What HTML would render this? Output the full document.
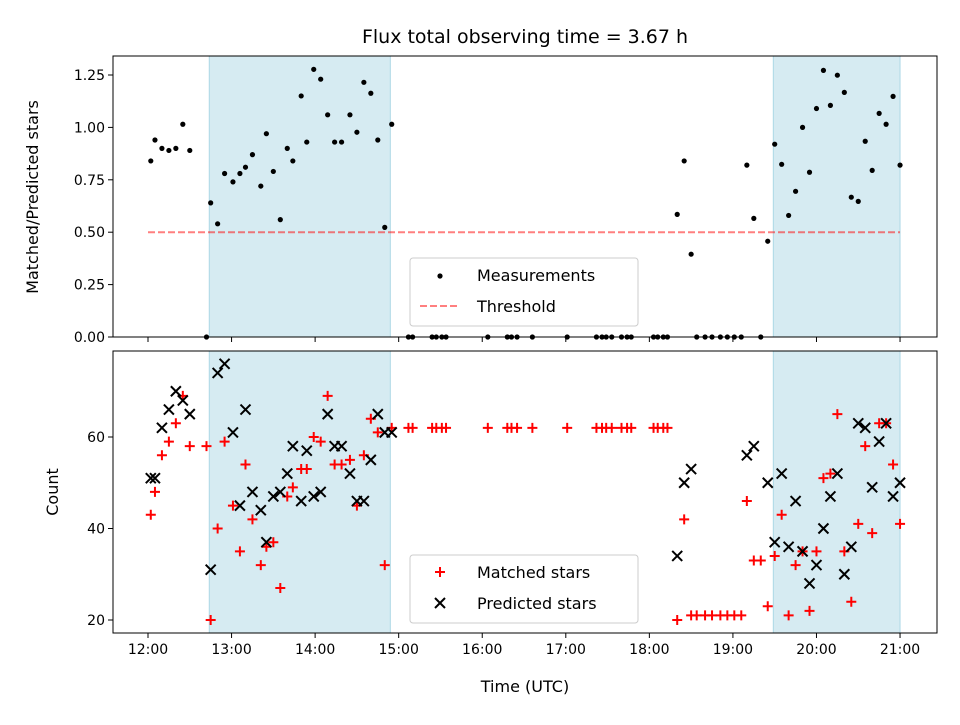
<!DOCTYPE html>
<html><head><meta charset="utf-8"><style>
body{margin:0;background:#fff}
svg text{font-family:"DejaVu Sans","Liberation Sans",sans-serif;fill:#000}
</style></head><body>
<svg id="chart" width="960" height="720" viewBox="0 0 960 720" xmlns="http://www.w3.org/2000/svg">
<rect width="960" height="720" fill="#fff"/>
<text x="525" y="43" font-size="19" text-anchor="middle">Flux total observing time = 3.67 h</text>
<g id="topPanel"></g>
<g id="botPanel"></g>
<text x="525" y="692" font-size="16" text-anchor="middle">Time (UTC)</text>
<text transform="translate(38,197) rotate(-90)" font-size="16" text-anchor="middle">Matched/Predicted stars</text>
<text transform="translate(58,492) rotate(-90)" font-size="16" text-anchor="middle">Count</text>
</svg>
<script>
// minutes after 12:00
const times=[2,5,10,15,20,25,30,42,45,50,55,61,66,70,75,81,85,90,95,100,104,110,114,119,124,129,134,139,145,150,155,160,165,170,175,
187,190,204,207,211,214,244,258,261,265,276,301,322,326,329,333,340,344,347,363,366,370,373,
380,385,390,394,400,405,411,416,421,426,430,435,440,445,450,455,460,465,470,475,480,485,490,495,500,505,510,515,520,525,530,535,540];
const ratio=[.84,.94,.90,.89,.90,1.015,.89,0,.64,.54,.78,.74,.78,.81,.87,.72,.97,.79,.56,.90,.84,1.15,.93,1.277,1.23,1.06,.93,.93,1.06,.977,1.215,1.163,.94,.523,1.015,
0,0,0,0,0,0,0,0,0,0,0,0,0,0,0,0,0,0,0,0,0,0,0,
.585,.84,.395,0,0,0,0,0,0,0,.82,.566,0,.457,.92,.824,.58,.695,1.0,.786,1.09,1.272,1.105,1.249,1.167,.667,.647,.934,.795,1.067,1.015,1.148,.82];
const matched=[43,48,56,59,63,69,58,58,20,40,59,45,35,54,42,32,36,37,27,47,49,53,53,60,59,69,54,54,55,45,56,64,61,32,62,
62,62,62,62,62,62,62,62,62,62,62,62,62,62,62,62,62,62,62,62,62,62,62,
20,42,21,21,21,21,21,21,21,21,46,33,33,23,34,43,21,32,35,22,35,51,52,65,35,24,41,58,39,63,63,54,41];
const predicted=[51,51,62,66,70,68,65,null,31,74,76,61,45,66,48,44,37,47,48,52,58,46,57,47,48,65,58,58,52,46,46,55,65,61,61,
null,null,null,null,null,null,null,null,null,null,null,null,null,null,null,null,null,null,null,null,null,null,null,
34,50,53,null,null,null,null,null,null,null,56,58,null,50,37,52,36,46,35,28,32,40,47,52,30,36,63,62,49,59,63,47,50];
const threshold=0.5;
const xTickLabels=["12:00","13:00","14:00","15:00","16:00","17:00","18:00","19:00","20:00","21:00"];
const topTicks=[0,0.25,0.5,0.75,1.0,1.25];
const botTicks=[20,40,60];
const spans=[[44,174],[449,540]];

const NS="http://www.w3.org/2000/svg";
const X=m=>148+m*83.56/60;
const YT=v=>337-v*209.6;
const YB=v=>620-(v-20)*4.575;
function mk(p,tag,at){const e=document.createElementNS(NS,tag);for(const k in at)e.setAttribute(k,at[k]);p.appendChild(e);return e;}
const topG=document.getElementById('topPanel'),botG=document.getElementById('botPanel');
const panels=[[topG,56,337],[botG,351,633]];
panels.forEach(([g,t,b],pi)=>{
  spans.forEach(s=>{const r=mk(g,'rect',{x:X(s[0]),y:t,width:X(s[1])-X(s[0]),height:b-t,fill:'#add8e6','fill-opacity':0.5,stroke:'#add8e6'});
    
    });
  xTickLabels.forEach((l,i)=>{const x=X(i*60);
    const tk=mk(g,'line',{x1:x,x2:x,y1:b,y2:b+5,stroke:'#000','stroke-width':1});
    
    
    if(pi===1){const tx=mk(g,'text',{x:x,y:b+21,'font-size':14,'text-anchor':'middle'});tx.textContent=l;
      
      }
  });
});
topTicks.forEach(v=>{const y=YT(v);mk(topG,'line',{x1:108,x2:113,y1:y,y2:y,stroke:'#000'});
  const t=mk(topG,'text',{x:105,y:y+5,'font-size':14,'text-anchor':'end'});t.textContent=v.toFixed(2);
  
  });
botTicks.forEach(v=>{const y=YB(v);mk(botG,'line',{x1:108,x2:113,y1:y,y2:y,stroke:'#000'});
  const t=mk(botG,'text',{x:105,y:y+5,'font-size':14,'text-anchor':'end'});t.textContent=v;
  
  });
const th=mk(topG,'line',{x1:X(0),x2:X(540),y1:YT(threshold),y2:YT(threshold),stroke:'#ff0000','stroke-opacity':0.5,'stroke-width':2,'stroke-dasharray':'7,3'});


times.forEach((m,i)=>{
  if(ratio[i]!=null){const c=mk(topG,'circle',{cx:X(m),cy:YT(ratio[i]),r:2.6,fill:'#000'});
    
    }
});
times.forEach((m,i)=>{
  if(matched[i]!=null){const x=X(m),y=YB(matched[i]);
    const p=mk(botG,'path',{d:`M${x-5} ${y}H${x+5}M${x} ${y-5}V${y+5}`,stroke:'#ff0000','stroke-width':2});
    
    }
});
times.forEach((m,i)=>{
  if(predicted[i]!=null){const x=X(m),y=YB(predicted[i]);
    const p=mk(botG,'path',{d:`M${x-5} ${y-5}L${x+5} ${y+5}M${x-5} ${y+5}L${x+5} ${y-5}`,stroke:'#000','stroke-width':2});
    
    }
});
panels.forEach(([g,t,b])=>{const r=mk(g,'rect',{x:113,y:t,width:824,height:b-t,fill:'none',stroke:'#000','stroke-width':1});
  
  });
function legend(g,y0,items,name){
  const lg=mk(g,'g',{});
  
  
  mk(lg,'rect',{x:410,y:y0,width:228,height:68,rx:3,fill:'#fff','fill-opacity':0.8,stroke:'#ccc'});
  items.forEach((it,k)=>{const y=y0+17+k*31;it.draw(lg,440,y);
    const t=mk(lg,'text',{x:477,y:y+6,'font-size':16});t.textContent=it.label;
    
    });
}
legend(topG,258,[{label:'Measurements',draw:(g,x,y)=>mk(g,'circle',{cx:x,cy:y+1,r:2.6,fill:'#000'})},
 {label:'Threshold',draw:(g,x,y)=>mk(g,'line',{x1:x-20,x2:x+20,y1:y,y2:y,stroke:'#ff0000','stroke-opacity':0.5,'stroke-width':2,'stroke-dasharray':'7,3'})}],'top-legend');
legend(botG,555,[{label:'Matched stars',draw:(g,x,y)=>mk(g,'path',{d:`M${x-5} ${y}H${x+5}M${x} ${y-5}V${y+5}`,stroke:'#ff0000','stroke-width':2})},
 {label:'Predicted stars',draw:(g,x,y)=>mk(g,'path',{d:`M${x-5} ${y-5}L${x+5} ${y+5}M${x-5} ${y+5}L${x+5} ${y-5}`,stroke:'#000','stroke-width':2})}],'bottom-legend');
</script>
</body></html>
